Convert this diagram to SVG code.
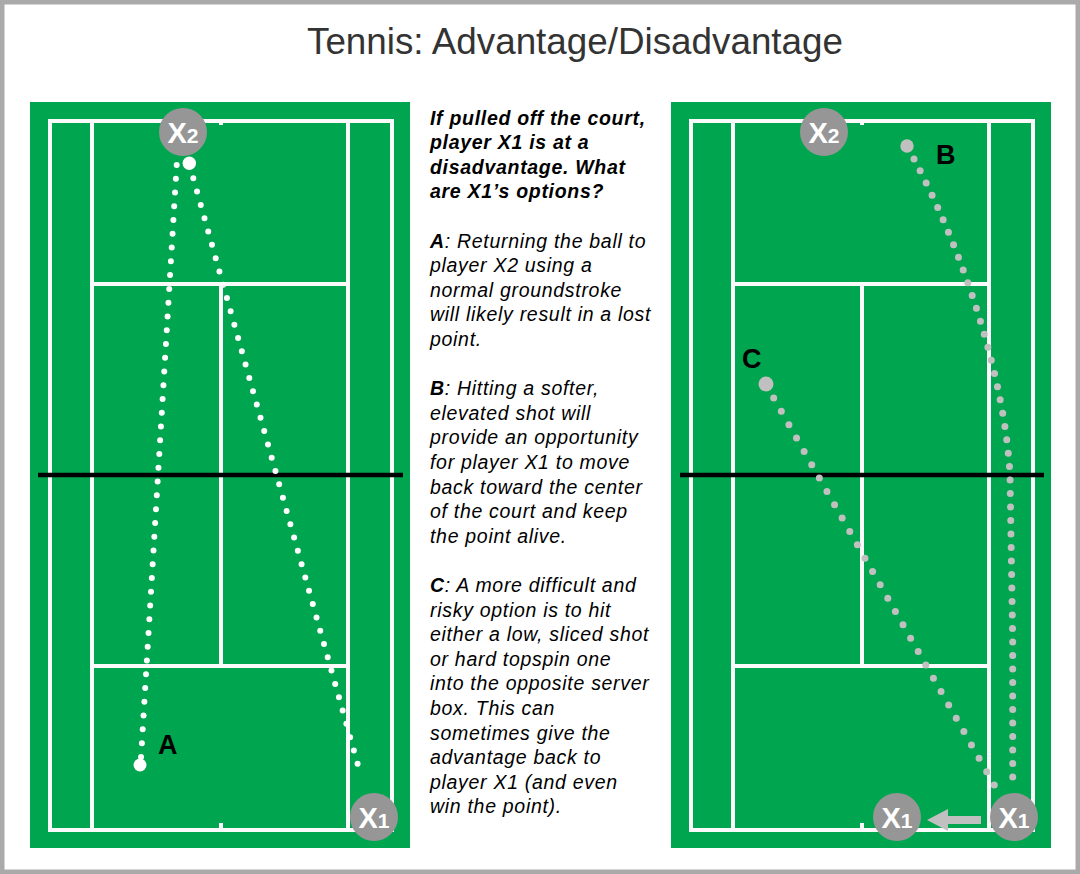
<svg xmlns="http://www.w3.org/2000/svg" width="1080" height="874" viewBox="0 0 1080 874">
<defs>
<style>
.court{fill:#00a54f}
.ln{stroke:#fafafa;stroke-width:4;fill:none}
.net{stroke:#000;stroke-width:4.5}
.pl{fill:#969696}
.pt{fill:#fff;font-family:"Liberation Sans",Arial,sans-serif;font-weight:bold;font-size:29px}
.lbl{fill:#000;font-family:"Liberation Sans",Arial,sans-serif;font-size:27px;font-weight:bold}
.wdot{stroke:#fff;stroke-width:6;stroke-linecap:round;fill:none}
.gdot{stroke:#c0c0c0;stroke-width:7;stroke-linecap:round;fill:none}
.body{font-family:"Liberation Sans",Arial,sans-serif;font-size:19.5px;font-style:italic;fill:#000;letter-spacing:0.7px}
.b{font-weight:bold}
</style>
<g id="courtLines">
<rect x="50" y="121" width="342" height="709"/>
<line x1="92" y1="121" x2="92" y2="830"/>
<line x1="348" y1="121" x2="348" y2="830"/>
<line x1="92" y1="284" x2="348" y2="284"/>
<line x1="92" y1="666" x2="348" y2="666"/>
<line x1="221" y1="284" x2="221" y2="666"/>
<line x1="221" y1="121" x2="221" y2="125"/>
<line x1="221" y1="823" x2="221" y2="830"/>
</g>
</defs>
<rect x="2.25" y="2.25" width="1075.5" height="869.5" fill="#fff" stroke="#aaaaaa" stroke-width="4.5"/>
<text x="307" y="54" font-family="&quot;Liberation Sans&quot;,Arial,sans-serif" font-size="36.8" fill="#333333">Tennis: Advantage/Disadvantage</text>

<g id="court-left">
<rect class="court" x="30" y="102" width="380" height="746"/>
<use href="#courtLines" class="ln"/>
<line class="net" x1="38" y1="475" x2="403" y2="475"/>
</g>
<g id="court-right">
<rect class="court" x="671" y="102" width="380" height="746"/>
<use href="#courtLines" class="ln" transform="translate(641,0)"/>
<line class="net" x1="680" y1="475" x2="1044" y2="475"/>
</g>

<g id="connectors">
<path class="wdot" d="M176.7,165 L141,757.9" stroke-dasharray="0 13.79"/>
<path class="wdot" d="M193.3,178.3 L361.3,777" stroke-dasharray="0 13.82"/>
<path class="gdot" d="M914,159 C965,255 1005,380 1010,475 L1012.7,640 L1012.7,778" stroke-dasharray="0 13.5"/>
<path class="gdot" d="M773.7,398 L994.3,785" stroke-dasharray="0 15.36"/>
<polygon id="move-arrow" fill="#c0c0c0" points="981,816 948,816 948,809 927,820 948,831 948,824 981,824"/>
</g>

<g id="ball-x2-left"><circle cx="189.3" cy="163.3" r="6.7" fill="#fff"/></g>
<g id="ball-a"><circle cx="140" cy="765" r="6.5" fill="#fff"/></g>
<g id="ball-b"><circle cx="907" cy="146" r="6.7" fill="#c0c0c0"/></g>
<g id="ball-c"><circle cx="766" cy="384" r="7.5" fill="#c0c0c0"/></g>

<g id="label-a"><text class="lbl" x="158" y="754">A</text></g>
<g id="label-b"><text class="lbl" x="936" y="164">B</text></g>
<g id="label-c"><text class="lbl" x="742" y="368">C</text></g>

<g id="player-x2-left"><circle class="pl" cx="183" cy="132" r="24"/><text class="pt" x="183" y="143" text-anchor="middle">X<tspan font-size="21">2</tspan></text></g>
<g id="player-x1-left"><circle class="pl" cx="374" cy="817" r="24"/><text class="pt" x="374" y="828" text-anchor="middle">X<tspan font-size="21">1</tspan></text></g>
<g id="player-x2-right"><circle class="pl" cx="824" cy="132" r="24"/><text class="pt" x="824" y="143" text-anchor="middle">X<tspan font-size="21">2</tspan></text></g>
<g id="player-x1-right"><circle class="pl" cx="1014" cy="817" r="24"/><text class="pt" x="1014" y="828" text-anchor="middle">X<tspan font-size="21">1</tspan></text></g>
<g id="player-x1-moved"><circle class="pl" cx="897" cy="817" r="24"/><text class="pt" x="897" y="828" text-anchor="middle">X<tspan font-size="21">1</tspan></text></g>

<g id="explanation">
<text class="body b" x="430" y="124.5">If pulled off the court,</text>
<text class="body b" x="430" y="149.1">player X1 is at a</text>
<text class="body b" x="430" y="173.7">disadvantage. What</text>
<text class="body b" x="430" y="198.3">are X1’s options?</text>
<text class="body" x="430" y="247.5"><tspan class="b">A</tspan>: Returning the ball to</text>
<text class="body" x="430" y="272.1">player X2 using a</text>
<text class="body" x="430" y="296.7">normal groundstroke</text>
<text class="body" x="430" y="321.3">will likely result in a lost</text>
<text class="body" x="430" y="345.9">point.</text>
<text class="body" x="430" y="395.1"><tspan class="b">B</tspan>: Hitting a softer,</text>
<text class="body" x="430" y="419.7">elevated shot will</text>
<text class="body" x="430" y="444.3">provide an opportunity</text>
<text class="body" x="430" y="468.9">for player X1 to move</text>
<text class="body" x="430" y="493.5">back toward the center</text>
<text class="body" x="430" y="518.1">of the court and keep</text>
<text class="body" x="430" y="542.7">the point alive.</text>
<text class="body" x="430" y="591.9"><tspan class="b">C</tspan>: A more difficult and</text>
<text class="body" x="430" y="616.5">risky option is to hit</text>
<text class="body" x="430" y="641.1">either a low, sliced shot</text>
<text class="body" x="430" y="665.7">or hard topspin one</text>
<text class="body" x="430" y="690.3">into the opposite server</text>
<text class="body" x="430" y="714.9">box. This can</text>
<text class="body" x="430" y="739.5">sometimes give the</text>
<text class="body" x="430" y="764.1">advantage back to</text>
<text class="body" x="430" y="788.7">player X1 (and even</text>
<text class="body" x="430" y="813.3">win the point).</text>
</g>
</svg>
